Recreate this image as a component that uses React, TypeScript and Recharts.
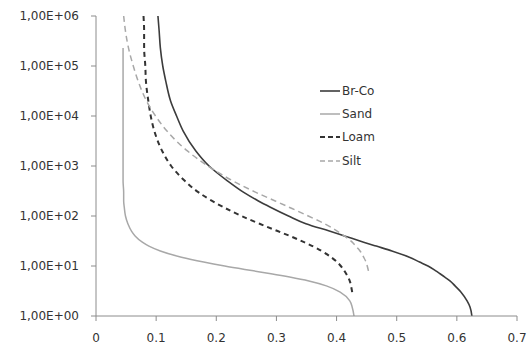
import { LineChart, Line, XAxis, YAxis, Legend } from "recharts";

// pressure head values (shared by every curve), bottom to top
const H = [
  1, 1.5, 2, 3, 4, 5, 6, 7, 8, 10, 12, 15, 20, 25, 30, 40, 50, 70, 100, 150, 200,
  300, 500, 1000, 2000, 5000, 1e4, 2e4, 5e4, 1e5, 2.3e5, 5e5, 1e6,
];

// water content, one per H entry (null = no point)
const BR_CO = [
  0.625, 0.622, 0.617, 0.607, 0.597, 0.589, 0.58, 0.572, 0.565, 0.552, 0.538,
  0.521, 0.492, 0.466, 0.445, 0.413, 0.388, 0.349, 0.32, 0.29, 0.27, 0.245,
  0.219, 0.188, 0.166, 0.145, 0.134, 0.124, 0.116, 0.111, 0.107, 0.105, 0.103,
];
const SAND = [
  0.429, 0.426, 0.422, 0.406, 0.383, 0.354, 0.322, 0.291, 0.262, 0.214, 0.179,
  0.142, 0.107, 0.088, 0.077, 0.065, 0.059, 0.053, 0.049, 0.047, 0.046, 0.046,
  0.045, 0.045, 0.045, 0.045, 0.045, 0.045, 0.045, 0.045, 0.045, null, null,
];
const LOAM = [
  null, null, null, 0.426, 0.424, 0.422, 0.419, 0.416, 0.413, 0.407, 0.401,
  0.391, 0.375, 0.36, 0.346, 0.322, 0.302, 0.272, 0.242, 0.212, 0.193, 0.17,
  0.148, 0.125, 0.11, 0.097, 0.091, 0.087, 0.083, 0.082, 0.08, 0.08, 0.079,
];
const SILT = [
  null, null, null, null, null, null, null, null, 0.453, 0.451, 0.449, 0.445,
  0.439, 0.432, 0.426, 0.413, 0.401, 0.38, 0.353, 0.321, 0.298, 0.265, 0.228,
  0.186, 0.152, 0.118, 0.099, 0.084, 0.07, 0.062, 0.054, 0.049, 0.046,
];

const X_TICKS = [0, 0.1, 0.2, 0.3, 0.4, 0.5, 0.6, 0.7];
const Y_TICKS = [1, 10, 100, 1000, 1e4, 1e5, 1e6];
const Y_LABELS = [
  "1,00E+00", "1,00E+01", "1,00E+02", "1,00E+03", "1,00E+04", "1,00E+05", "1,00E+06",
];

const FONT = "'DejaVu Sans', sans-serif";
const AXIS_COLOR = "#8c8c8c";
const TEXT_COLOR = "#333";

const SERIES = [
  { name: "Br-Co", values: BR_CO, color: "#3c3c3c", width: 1.6, dash: undefined },
  { name: "Sand", values: SAND, color: "#a8a8a8", width: 1.5, dash: undefined },
  { name: "Loam", values: LOAM, color: "#333333", width: 2, dash: "5 4" },
  { name: "Silt", values: SILT, color: "#a8a8a8", width: 1.5, dash: "6 4" },
];

const toPoints = (values: (number | null)[]) =>
  H.map((h, i) => ({ h, theta: values[i] })).filter((d) => d.theta != null);

// legend drawn by hand so the line samples keep the dash patterns
const renderLegend = () => (
  <div style={{ fontFamily: FONT, fontSize: 12, color: TEXT_COLOR }}>
    {SERIES.map((s) => (
      <div key={s.name} style={{ display: "flex", alignItems: "center", height: 23.3 }}>
        <svg width={20} height={4} style={{ display: "block" }}>
          <line
            x1={0}
            y1={2}
            x2={20}
            y2={2}
            stroke={s.color}
            strokeWidth={s.width}
            strokeDasharray={s.dash ? "5 3" : undefined}
          />
        </svg>
        <span style={{ marginLeft: 2 }}>{s.name}</span>
      </div>
    ))}
  </div>
);

export default function App() {
  return (
    <div style={{ position: "absolute", left: 0, top: 0, background: "#fff" }}>
      <LineChart width={527} height={349} margin={{ top: 16, right: 10, bottom: 0, left: 0 }}>
        <XAxis
          dataKey="theta"
          type="number"
          domain={[0, 0.7]}
          ticks={X_TICKS}
          interval={0}
          height={33}
          tickSize={5}
          tickMargin={12}
          stroke={AXIS_COLOR}
          tick={{ fill: TEXT_COLOR, fontSize: 12, fontFamily: FONT }}
        />
        <YAxis
          dataKey="h"
          type="number"
          scale="log"
          domain={[1, 1e6]}
          allowDataOverflow
          ticks={Y_TICKS}
          interval={0}
          width={96}
          tickSize={5}
          tickMargin={12}
          stroke={AXIS_COLOR}
          tickFormatter={(v: number) => Y_LABELS[Y_TICKS.indexOf(v)]}
          tick={{ fill: TEXT_COLOR, fontSize: 12, fontFamily: FONT }}
        />
        <Legend
          layout="vertical"
          align="center"
          verticalAlign="middle"
          content={renderLegend}
          wrapperStyle={{ left: 320, top: 79, width: "auto" }}
        />
        {SERIES.map((s) => (
          <Line
            key={s.name}
            name={s.name}
            data={toPoints(s.values)}
            dataKey="h"
            type="monotoneY"
            stroke={s.color}
            strokeWidth={s.width}
            strokeDasharray={s.dash}
            dot={false}
            activeDot={false}
            isAnimationActive={false}
          />
        ))}
      </LineChart>
    </div>
  );
}
